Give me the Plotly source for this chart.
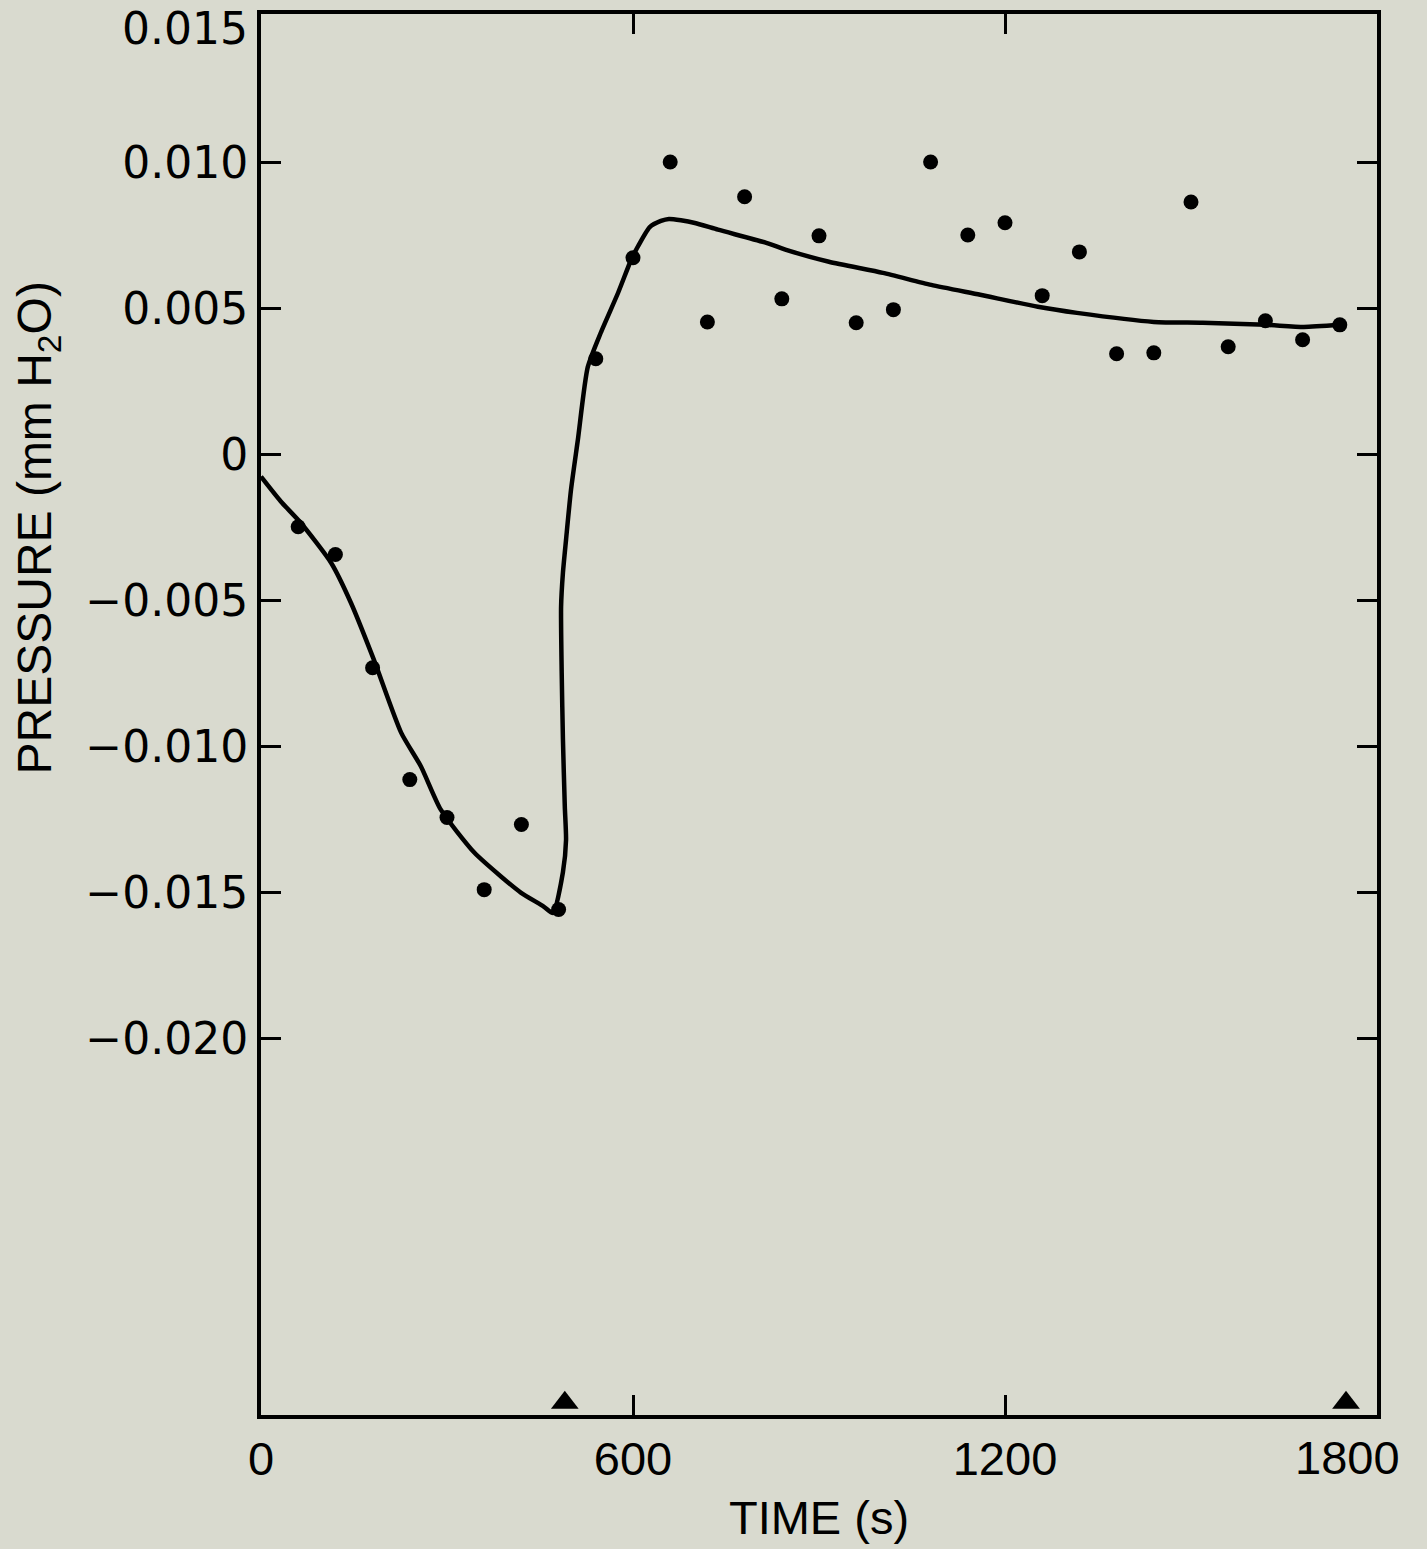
import plotly.graph_objects as go

# measured points (time s, pressure mm H2O)
meas_t = [60, 120, 180, 240, 300, 360, 420, 480, 540, 600, 660, 720, 780, 840, 900,
          960, 1020, 1080, 1140, 1200, 1260, 1320, 1380, 1440, 1500, 1560, 1620, 1680, 1740]
meas_p = [-0.00247, -0.00342, -0.0073, -0.01113, -0.01243, -0.0149, -0.01267, -0.01558,
          0.00329, 0.00675, 0.01003, 0.00455, 0.00884, 0.00534, 0.0075, 0.00452, 0.00497,
          0.01003, 0.00753, 0.00795, 0.00545, 0.00695, 0.00346, 0.00349, 0.00866, 0.0037,
          0.00459, 0.00394, 0.00445]

# model curve
curve_t = [0, 32, 64, 113, 145, 182, 226, 258, 290, 344, 387, 419, 456, 471, 487, 492,
           490, 487, 485, 484, 487, 492, 500, 511, 527, 548, 576, 597, 605, 627, 645, 658,
           698, 737, 815, 847, 916, 1003, 1081, 1160, 1253, 1316, 1440, 1519, 1621, 1682, 1740]
curve_p = [-0.00075, -0.0016, -0.00233, -0.0037, -0.00507, -0.00702, -0.00952, -0.01068,
           -0.01216, -0.01363, -0.01445, -0.0150, -0.01548, -0.0157, -0.0143, -0.0132,
           -0.01205, -0.00976, -0.00747, -0.00521, -0.00404, -0.00291, -0.0012, 0.0005,
           0.0030, 0.00418, 0.00555, 0.00668, 0.00702, 0.0078, 0.00801, 0.00808,
           0.00795, 0.00771, 0.00726, 0.00702, 0.00661, 0.00623, 0.00582, 0.00548,
           0.00507, 0.00486, 0.00455, 0.00452, 0.00445, 0.00438, 0.00445]

# event markers on the time axis
event_t = [490, 1750]

x_ticks = [0, 600, 1200]
x_labels = ["0", "600", "1200"]
x_last_tick = 1800
x_last_label = "1800"
y_ticks = [0.010, 0.005, 0, -0.005, -0.010, -0.015, -0.020]
y_labels = ["0.010", "0.005", "0", "\u22120.005", "\u22120.010", "\u22120.015", "\u22120.020"]
y_top_tick = 0.015
y_top_label = "0.015"

y_range = [-0.0329, 0.0151]
x_range = [0, 1800]

bg = "#d9dacf"
tick_font = dict(family="Liberation Sans, Arial", size=47, color="black")
ytick_font = dict(family="DejaVu Sans", size=44, color="black")

fig = go.Figure()
fig.add_trace(go.Scatter(x=curve_t, y=curve_p, mode="lines",
                         line=dict(color="black", width=4.5, shape="spline", smoothing=0.6),
                         showlegend=False))
fig.add_trace(go.Scatter(x=meas_t, y=meas_p, mode="markers",
                         marker=dict(color="black", size=15), showlegend=False))
fig.add_trace(go.Scatter(x=event_t, y=[y_range[0] + 0.00042] * len(event_t), mode="markers",
                         marker=dict(color="black", size=24, symbol="triangle-up"),
                         cliponaxis=False, showlegend=False))

fig.update_xaxes(range=x_range, tickvals=x_ticks, ticktext=x_labels, automargin=False,
                 ticks="inside", ticklen=20, tickwidth=3, tickcolor="black",
                 showline=True, linewidth=4, linecolor="black", mirror="ticks",
                 showgrid=False, zeroline=False, ticklabeloverflow="allow",
                 tickfont=tick_font,
                 title=dict(text="TIME (s)", standoff=18,
                            font=dict(family="Liberation Sans, Arial", size=47, color="black")))
fig.update_yaxes(range=y_range, tickvals=y_ticks, ticktext=y_labels, automargin=False,
                 ticks="inside", ticklen=20, tickwidth=3, tickcolor="black",
                 showline=True, linewidth=4, linecolor="black", mirror="ticks",
                 showgrid=False, zeroline=False, ticklabeloverflow="allow",
                 tickfont=ytick_font)

fig.add_annotation(text=x_last_label, xref="x", x=x_last_tick, xanchor="center", xshift=-30,
                   yref="paper", y=0, yanchor="top", yshift=-14, showarrow=False,
                   font=tick_font)
fig.add_annotation(text=y_top_label, xref="paper", x=0, xanchor="right", xshift=-12,
                   yref="y", y=y_top_tick, yanchor="middle", yshift=-12, borderpad=0,
                   showarrow=False, font=ytick_font)

fig.add_annotation(text="PRESSURE (mm H<sub>2</sub>O)", textangle=-90,
                   xref="paper", x=-0.2, xanchor="center",
                   yref="y", y=-0.0025, yanchor="middle", showarrow=False,
                   font=dict(family="Liberation Sans, Arial", size=48, color="black"))

fig.update_layout(width=1427, height=1549, autosize=False,
                  margin=dict(l=261, r=50, t=14, b=134),
                  paper_bgcolor=bg, plot_bgcolor=bg)

fig.write_html("out.html")
